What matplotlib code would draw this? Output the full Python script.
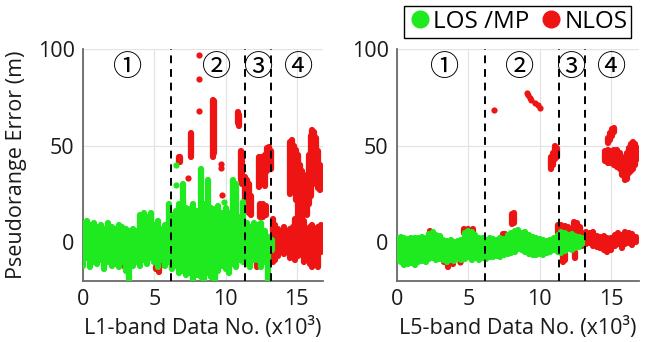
import matplotlib
matplotlib.use('Agg')
import matplotlib.pyplot as plt
from matplotlib.lines import Line2D

plt.rcParams['font.family'] = ['Open Sans', 'DejaVu Sans']

GREEN = '#1fe91f'
RED = '#ee1414'

# ---------------- L1 band (left panel) ----------------
# LOS/MP dense band: x (x10^3), lower / upper envelope of the cloud
l1_los_x = [0, 0.25, 0.5, 0.75, 1, 1.25, 1.5, 1.75, 2, 2.25, 2.5, 2.75, 3, 3.25, 3.5, 3.75,
            4, 4.25, 4.5, 4.75, 5, 5.25, 5.5, 5.75, 6, 6.25, 6.5, 6.75, 7, 7.25, 7.5, 7.75,
            8, 8.25, 8.5, 8.75, 9, 9.25, 9.5, 9.75, 10, 10.25, 10.5, 10.75, 11, 11.25, 11.5,
            11.75, 12, 12.25, 12.5, 12.75, 13, 13.25]
l1_los_hi = [10, 11, 9, 10, 8, 9, 7, 10, 8, 7, 9, 8, 7, 6, 7, 6,
             14, 15, 13, 15, 9, 11, 7, 9, 20, 14, 16, 20, 30, 18, 17, 20,
             16, 38, 20, 32, 18, 17, 19, 15, 18, 15, 32, 30, 13, 21, 10,
             8, 10, 9, 10, 6, 3, 1]
l1_los_lo = [-12, -8, -13, -10, -11, -9, -14, -10, -12, -11, -13, -10, -15, -20, -12, -10,
             -12, -9, -11, -8, -10, -13, -9, -12, -10, -14, -12, -16, -15, -17, -16, -20,
             -17, -18, -20, -16, -18, -20, -15, -12, -14, -16, -11, -13, -9, -10, -11,
             -13, -9, -9, -13, -10, -20, -4]
l1_los_pts_x = [6.54, 6.54, 9.86]
l1_los_pts_y = [40.2, 29.5, 21]

# NLOS base band in region 4
l1_nlos_x = [13.3, 13.5, 13.7, 13.9, 14.1, 14.3, 14.5, 14.7, 14.9, 15.1, 15.3, 15.5,
             15.7, 15.9, 16.1, 16.3, 16.5, 16.7]
l1_nlos_hi = [12, 9, 7, 6, 8, 5, 7, 8, 12, 10, 9, 11, 6, 8, 9, 7, 8, 9]
l1_nlos_lo = [-10, -9, -7, -5, -6, -4, -8, -5, -9, -7, -6, -10, -8, -11, -13, -9, -13, -5]

# NLOS columns (outlier clusters)
l1_col_x = [14.5, 14.65, 14.8, 14.95, 15.1, 15.25, 15.4, 15.55, 15.7, 15.85, 16.0, 16.1,
            16.2, 16.35, 16.5, 16.65, 16.78,
            6.72, 6.82, 7.58, 9.1, 9.2, 10.87, 10.95, 11.08, 11.18,
            11.35, 11.5, 11.65, 11.77, 12.35, 12.5, 12.65, 12.8, 12.93, 13.08, 13.18,
            12.45, 12.65, 12.85, 12.2, 11.5,
            0.05, 1.3, 2.93, 5.1, 5.3, 5.7]
l1_col_lo = [25, 28, 30, 22, 12, 13, 12, 15, 14, 20, 24, 35,
             40, 30, 28, 27, 28,
             41.5, 41.5, 44, 44, 46, 61.5, 60, 32, 30,
             18, 17, 15, 14, 28.6, 30, 31, 29, 37, 40, 38,
             13, 13, 14, -13, -10,
             -3, -6.5, -12.5, -14, -15.4, -11.5]
l1_col_hi = [52, 53, 50, 48, 45, 40, 37, 33, 35, 45, 55, 58,
             57, 54, 47, 40, 36,
             44, 44, 56.5, 73.6, 73, 67.5, 66, 47, 46,
             34, 32, 30, 24, 44, 44, 42, 45, 49, 49.4, 47,
             20, 20, 19, -7, -3,
             -1.5, -5, -11, -12.5, -13, -10.5]
l1_nlos_pts_x = [8.12, 8.12, 8.12, 9.75, 7.35, 9.68, 9.68]
l1_nlos_pts_y = [96.9, 84.5, 67.9, 24.4, 33.5, 38.5, 40.5]

# ---------------- L5 band (right panel) ----------------
l5_los_x = [0, 0.25, 0.5, 0.75, 1, 1.25, 1.5, 1.75, 2, 2.25, 2.5, 2.75, 3, 3.25, 3.5, 3.75,
            4, 4.25, 4.5, 4.75, 5, 5.25, 5.5, 5.75, 6, 6.25, 6.5, 6.75, 7, 7.25, 7.5, 7.75,
            8, 8.25, 8.5, 8.75, 9, 9.25, 9.5, 9.75, 10, 10.25, 10.5, 10.75, 11, 11.25, 11.5,
            11.75, 12, 12.25, 12.5, 12.75, 13]
l5_los_hi = [2, 3, 2, 1.5, 2.5, 2, 2.5, 3, 2, 4.5, 5.5, 4, 3.5, 1, 0.5, 1,
             0, 0.5, 1, 5, 6, 5.5, 4, 2, 2.5, 1, 2, 1.5, 1, 2, 1.5, 4,
             5, 6, 6.5, 5, 5.5, 4, 3, 2, 1.5, 1, 0.5, 1, 2.5, 4, 5.5,
             5, 4, 4.5, 3.5, 3, 2]
l5_los_lo = [-9, -10, -11.5, -11, -10.5, -11.5, -10, -9.5, -10, -8.5, -8, -9, -8.5, -9, -10, -9,
             -9.5, -8, -9, -8.5, -7.5, -9, -8, -9, -8, -8.5, -7.5, -7.5, -7, -7.5, -6.5, -6,
             -5.5, -5, -3.5, -4, -5, -6, -6.5, -6.5, -6, -6.5, -5.5, -5, -4, -5, -5.5,
             -4.5, -3.5, -4, -3, -2.5, -1]

l5_nlos_x = [13, 13.25, 13.5, 13.75, 14, 14.25, 14.5, 14.75, 15, 15.25, 15.5, 15.75,
             16, 16.25, 16.5, 16.75]
l5_nlos_hi = [5, 5.5, 5, 5.5, 3.5, 3, 3.5, 2, 2.5, 4, 5, 4, 5.5, 5, 4.5, 3]
l5_nlos_lo = [-2, -1, -0.5, -2, -2.5, -3, -4, -5, -4, -2, -1, -3, -1, -0.5, -1.5, 0]

l5_col_x = [14.6, 14.8, 15.0, 15.2, 15.4, 15.6, 15.8, 15.95, 16.1, 16.25, 16.4, 16.55,
            16.7, 16.85, 14.8, 14.95, 15.1, 15.2,
            10.8, 10.95, 11.1, 11.2, 8.05, 8.2,
            11.25, 11.5, 11.75, 12.0, 12.4, 12.6, 12.8, 11.6, 11.8, 12.5,
            3.3, 3.6, 3.9, 4.7, 5.0, 5.3, 7.4, 7.6, 2.3]
l5_col_lo = [42, 41, 41, 40, 39, 38, 35, 32, 33, 36, 37, 38,
             40, 43, 51.5, 53, 55, 57,
             38, 40, 43, 44, 9.5, 10,
             4.8, 5, 5, 4.5, 6.5, 6, 5, -10, -9, -8,
             -10, -12.6, -11, 5, 5, 5.5, 3, 3, 4]
l5_col_hi = [47, 48, 47, 48, 48, 46, 44, 42, 46, 49, 51, 52,
             51, 49, 54, 56.5, 58.5, 59,
             44, 46, 50, 49, 14.5, 15,
             9, 9, 8.5, 8, 10.7, 10, 8, -6.6, -6, -5,
             -8, -10, -9, 7, 7, 7, 4.5, 4.5, 6]
l5_nlos_pts_x = [6.8, 9.1, 9.2, 9.3, 9.4, 9.7, 9.85, 10.0, 4.41]
l5_nlos_pts_y = [68.3, 77, 76, 74.5, 73.5, 72, 71, 69.5, -10]

# region borders and region labels
borders = [6.2, 11.35, 13.2]
region_labels = ['①', '②', '③', '④']
l1_label_x = [3.13, 9.37, 12.3, 15.1]
l5_label_x = [3.36, 8.62, 12.24, 15.04]

fig = plt.figure(figsize=(6.46, 3.42), dpi=100)
ax1 = fig.add_axes([83 / 646, 61 / 342, 240 / 646, 232 / 342])
ax2 = fig.add_axes([397 / 646, 61 / 342, 242 / 646, 232 / 342])


def band(ax, x, lo, hi, color, z):
    lc = ax.vlines(x, lo, hi, colors=color, linewidth=4.5, zorder=z)
    lc.set_capstyle('round')


def style(ax, xmax, labx, xlabel):
    ax.set_xlim(0, xmax)
    ax.set_ylim(-20, 100)
    ax.set_xticks([0, 5, 10, 15])
    ax.set_yticks([0, 50, 100])
    ax.grid(True, color='#e3e3e3', linewidth=0.9, zorder=0)
    ax.set_axisbelow(True)
    for s in ['top', 'right']:
        ax.spines[s].set_visible(False)
    for s in ['left', 'bottom']:
        ax.spines[s].set_color('#6a6a6a')
        ax.spines[s].set_linewidth(1.3)
    ax.tick_params(length=0, labelsize=15.5, pad=6, colors='#1a1a1a')
    ax.set_xlabel(xlabel, fontsize=15.5, labelpad=5, color='#1a1a1a')
    for b in borders:
        ax.axvline(b, color='black', linestyle=(0, (4, 3)), linewidth=1.4, zorder=5)
    for lx, t in zip(labx, region_labels):
        ax.text(lx, 90, t, fontsize=21, ha='center', va='center', zorder=6,
                family=['Noto Sans CJK JP', 'DejaVu Sans'])


# left
band(ax1, l1_nlos_x, l1_nlos_lo, l1_nlos_hi, RED, 2)
band(ax1, l1_col_x, l1_col_lo, l1_col_hi, RED, 2)
ax1.scatter(l1_nlos_pts_x, l1_nlos_pts_y, s=20, color=RED, linewidths=0, zorder=2)
band(ax1, l1_los_x, l1_los_lo, l1_los_hi, GREEN, 3)
ax1.scatter(l1_los_pts_x, l1_los_pts_y, s=20, color=GREEN, linewidths=0, zorder=3)
style(ax1, 16.84, l1_label_x, 'L1-band Data No. (x10³)')
ax1.set_ylabel('Pseudorange Error (m)', fontsize=15.5, labelpad=8, color='#1a1a1a')

# right
band(ax2, l5_nlos_x, l5_nlos_lo, l5_nlos_hi, RED, 2)
band(ax2, l5_col_x, l5_col_lo, l5_col_hi, RED, 2)
ax2.scatter(l5_nlos_pts_x, l5_nlos_pts_y, s=20, color=RED, linewidths=0, zorder=2)
band(ax2, l5_los_x, l5_los_lo, l5_los_hi, GREEN, 3)
style(ax2, 16.96, l5_label_x, 'L5-band Data No. (x10³)')

handles = [Line2D([], [], marker='o', linestyle='none', color=GREEN, markersize=12),
           Line2D([], [], marker='o', linestyle='none', color=RED, markersize=12)]
leg = fig.legend(handles, ['LOS /MP', 'NLOS'], loc='center', ncol=2,
                 bbox_to_anchor=(517.5 / 646, 1 - 22 / 342), fontsize=17.5,
                 frameon=True, fancybox=False, edgecolor='black', framealpha=1,
                 handletextpad=0.05, columnspacing=0.4, borderpad=0.15,
                 handlelength=1.0, borderaxespad=0)
leg.get_frame().set_linewidth(1.0)

fig.savefig('out.png', dpi=100)
